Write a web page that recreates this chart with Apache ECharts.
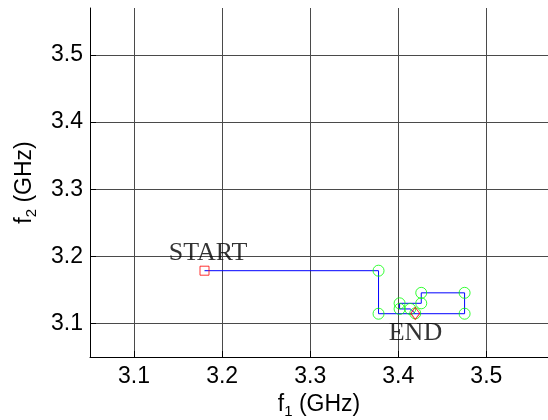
<!DOCTYPE html>
<html>
<head>
<meta charset="utf-8">
<style>
  html, body { margin: 0; padding: 0; background: #fff; }
  #chart { width: 548px; height: 420px; }
</style>
<script src="https://cdn.jsdelivr.net/npm/echarts@6/dist/echarts.min.js"></script>
</head>
<body>
<div id="chart"></div>
<script>
// search path in the (f1, f2) plane, GHz
const pathF1 = [3.180, 3.3776, 3.3776, 3.4753, 3.4753, 3.4261, 3.4261, 3.4015, 3.4015, 3.4136, 3.4193]
const pathF2 = [3.1786, 3.1786, 3.1145, 3.1145, 3.1456, 3.1456, 3.130, 3.130, 3.1216, 3.1216, 3.115]
const tickValues = [3.1, 3.2, 3.3, 3.4, 3.5]
const startLabel = [3.184, 3.205]
const endLabel = [3.4195, 3.086]

const path = pathF1.map((x, i) => [x, pathF2[i]])
const visited = path.slice(1, path.length)
const startPt = [path[0]]
const endPt = [path[path.length - 1]]

const chart = echarts.init(document.getElementById('chart'))

const tickFont = { fontFamily: 'Liberation Sans', fontSize: 23, color: '#000' }
const gridLine = { show: true, lineStyle: { color: '#4a4a4a', type: 'solid', width: 1 } }

function axisName(n) {
  return '{a|f}{s|' + n + '}{a| (GHz)}'
}
const nameRich = {
  a: { fontFamily: 'Liberation Sans', fontSize: 23, color: '#000', lineHeight: 30, verticalAlign: 'middle' },
  s: { fontFamily: 'Liberation Sans', fontSize: 15, color: '#000', padding: [14, 0, 0, 0], verticalAlign: 'middle' }
}

chart.setOption({
  animation: false,
  grid: { left: 90, right: 0, top: 8, bottom: 63, outerBoundsMode: 'none' },
  xAxis: {
    type: 'value', min: 3.05, max: 3.57,
    name: axisName(1), nameLocation: 'middle', nameGap: 33,
    nameTextStyle: { rich: nameRich },
    axisLine: { show: true, onZero: false, lineStyle: { color: '#000', width: 1 } },
    axisTick: { show: true, inside: true, length: 6, customValues: tickValues, lineStyle: { color: '#000' } },
    axisLabel: { ...tickFont, margin: 8, customValues: tickValues, formatter: v => v.toFixed(1) },
    splitLine: gridLine
  },
  yAxis: {
    type: 'value', min: 3.05, max: 3.57,
    name: axisName(2), nameLocation: 'middle', nameGap: 50,
    nameTextStyle: { rich: nameRich },
    axisLine: { show: true, onZero: false, lineStyle: { color: '#000', width: 1 } },
    axisTick: { show: true, inside: true, length: 6, customValues: tickValues, lineStyle: { color: '#000' } },
    axisLabel: { ...tickFont, margin: 7, customValues: tickValues, formatter: v => v.toFixed(1) },
    splitLine: gridLine
  },
  series: [
    {
      type: 'line', data: path, symbol: 'none',
      lineStyle: { color: '#0000ff', width: 1 }, z: 2
    },
    {
      type: 'scatter', data: visited, symbol: 'circle', symbolSize: 11,
      itemStyle: { color: 'rgba(0,0,0,0)', borderColor: '#00ff00', borderWidth: 1 }, z: 3
    },
    {
      type: 'scatter', data: startPt, symbol: 'rect', symbolSize: 9,
      itemStyle: { color: 'rgba(0,0,0,0)', borderColor: '#ff0000', borderWidth: 1 }, z: 4
    },
    {
      type: 'scatter', data: endPt, symbol: 'diamond', symbolSize: [9, 12],
      itemStyle: { color: 'rgba(0,0,0,0)', borderColor: '#ff0000', borderWidth: 1 }, z: 4
    },
    {
      type: 'scatter', symbolSize: 0, silent: true,
      data: [
        { value: startLabel, name: 'START' },
        { value: endLabel, name: 'END' }
      ],
      label: {
        show: true, position: 'inside', formatter: '{b}',
        fontFamily: 'Liberation Serif', fontSize: 26, color: '#000'
      },
      z: 5
    }
  ]
})
</script>
</body>
</html>
